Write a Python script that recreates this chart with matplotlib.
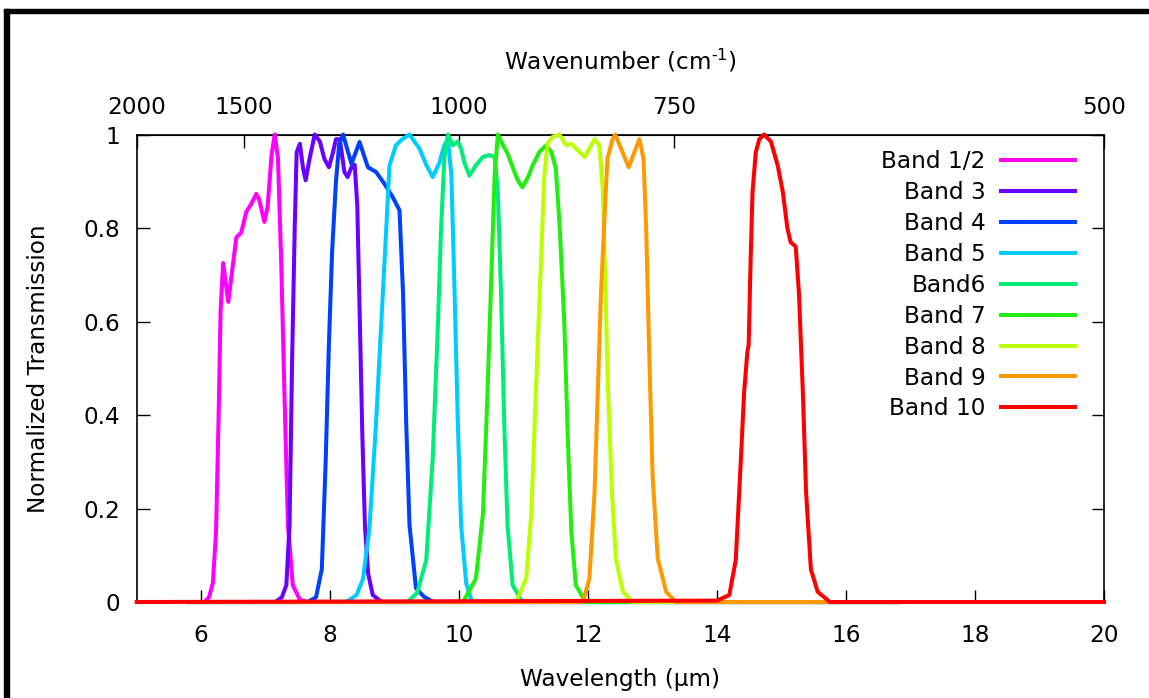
import matplotlib
matplotlib.use("Agg")
import matplotlib.pyplot as plt
from matplotlib.patches import Rectangle

# band transmission curves (wavelength in um, normalized transmission)
wl_b12 = [5.8, 6.05, 6.12, 6.18, 6.23, 6.27, 6.30, 6.34, 6.42, 6.49, 6.545, 6.62, 6.70, 6.77, 6.855,
          6.90, 6.98, 7.03, 7.09, 7.14, 7.19, 7.24, 7.29, 7.345, 7.42, 7.53, 7.65, 16.8]
tr_b12 = [0, 0, 0.01, 0.04, 0.15, 0.40, 0.62, 0.725, 0.642, 0.72, 0.78, 0.79, 0.835, 0.85, 0.873,
          0.86, 0.813, 0.845, 0.955, 1.0, 0.95, 0.73, 0.45, 0.165, 0.036, 0.005, 0, 0]

wl_b3 = [5.8, 7.15, 7.25, 7.32, 7.37, 7.41, 7.45, 7.48, 7.53, 7.58, 7.62, 7.68, 7.76, 7.84, 7.91,
         7.98, 8.04, 8.09, 8.15, 8.22, 8.27, 8.33, 8.38, 8.42, 8.46, 8.50, 8.54, 8.59, 8.66, 8.8, 16.8]
tr_b3 = [0, 0, 0.01, 0.036, 0.165, 0.52, 0.80, 0.962, 0.98, 0.927, 0.902, 0.948, 1.0, 0.985, 0.948,
         0.93, 0.96, 0.99, 0.99, 0.92, 0.909, 0.93, 0.935, 0.85, 0.6, 0.35, 0.16, 0.06, 0.015, 0, 0]

wl_b4 = [5.8, 7.65, 7.78, 7.87, 7.93, 7.98, 8.03, 8.09, 8.14, 8.20, 8.33, 8.455, 8.585, 8.71, 8.84,
         8.97, 9.075, 9.13, 9.18, 9.23, 9.33, 9.45, 9.6, 16.8]
tr_b4 = [0, 0, 0.01, 0.07, 0.3, 0.55, 0.75, 0.9, 0.98, 1.0, 0.937, 0.984, 0.93, 0.92, 0.895,
         0.866, 0.838, 0.66, 0.378, 0.165, 0.03, 0.012, 0, 0]

wl_b5 = [5.8, 8.25, 8.41, 8.51, 8.61, 8.71, 8.79, 8.87, 8.92, 9.02, 9.12, 9.23, 9.385, 9.49, 9.59,
         9.695, 9.77, 9.825, 9.88, 9.93, 9.98, 10.03, 10.11, 10.2, 16.8]
tr_b5 = [0, 0, 0.015, 0.05, 0.16, 0.38, 0.59, 0.80, 0.934, 0.977, 0.99, 1.0, 0.97, 0.935, 0.909,
         0.94, 0.977, 0.99, 0.912, 0.66, 0.38, 0.165, 0.04, 0, 0]

wl_b6 = [5.8, 9.2, 9.35, 9.49, 9.59, 9.67, 9.72, 9.77, 9.825, 9.90, 9.98, 10.03, 10.08, 10.16, 10.26,
         10.37, 10.47, 10.55, 10.60, 10.65, 10.70, 10.75, 10.83, 10.98, 16.8]
tr_b6 = [0, 0, 0.02, 0.09, 0.307, 0.59, 0.80, 0.948, 1.0, 0.977, 0.985, 0.97, 0.94, 0.912, 0.934,
         0.952, 0.956, 0.952, 0.877, 0.66, 0.38, 0.165, 0.036, 0, 0]

wl_b7 = [5.8, 10.06, 10.26, 10.37, 10.44, 10.50, 10.55, 10.60, 10.68, 10.75, 10.83, 10.91, 10.98,
         11.07, 11.14, 11.245, 11.35, 11.43, 11.50, 11.56, 11.63, 11.69, 11.74, 11.81, 11.96, 16.8]
tr_b7 = [0, 0, 0.05, 0.19, 0.45, 0.70, 0.91, 1.0, 0.977, 0.96, 0.93, 0.902, 0.887,
         0.909, 0.934, 0.963, 0.977, 0.963, 0.927, 0.80, 0.6, 0.33, 0.15, 0.036, 0, 0]

wl_b8 = [5.8, 10.88, 11.04, 11.12, 11.19, 11.27, 11.32, 11.37, 11.45, 11.555, 11.66, 11.74, 11.81,
         11.95, 12.10, 12.175, 12.23, 12.27, 12.31, 12.37, 12.43, 12.54, 12.69, 16.8]
tr_b8 = [0, 0, 0.05, 0.19, 0.45, 0.73, 0.91, 0.98, 0.995, 1.0, 0.977, 0.98, 0.97,
         0.952, 0.99, 0.977, 0.877, 0.66, 0.45, 0.235, 0.093, 0.022, 0, 0]

wl_b9 = [5.8, 11.92, 12.02, 12.10, 12.15, 12.20, 12.26, 12.30, 12.38, 12.42, 12.51, 12.63, 12.72,
         12.795, 12.86, 12.90, 12.95, 13.00, 13.08, 13.21, 13.36, 16.8]
tr_b9 = [0, 0, 0.05, 0.235, 0.45, 0.66, 0.84, 0.948, 0.99, 1.0, 0.97, 0.93, 0.963,
         0.99, 0.948, 0.80, 0.52, 0.27, 0.093, 0.022, 0, 0]

wl_b10 = [5.0, 14.0, 14.19, 14.29, 14.37, 14.42, 14.47, 14.49, 14.52, 14.55, 14.60, 14.655, 14.73,
          14.835, 14.94, 15.02, 15.09, 15.14, 15.22, 15.27, 15.33, 15.38, 15.455, 15.56, 15.75, 20.0]
tr_b10 = [0, 0.003, 0.015, 0.09, 0.307, 0.45, 0.535, 0.55, 0.73, 0.877, 0.962, 0.99, 1.0,
          0.985, 0.934, 0.877, 0.80, 0.77, 0.76, 0.66, 0.45, 0.235, 0.07, 0.022, 0, 0]

band_names = ["Band 1/2", "Band 3", "Band 4", "Band 5", "Band6", "Band 7", "Band 8", "Band 9", "Band 10"]
band_colors = ["#ff00ff", "#6a00ff", "#0040ff", "#00ccff", "#00ee77", "#22ee11", "#bbff00", "#ff9900", "#ff0000"]
band_wl = [wl_b12, wl_b3, wl_b4, wl_b5, wl_b6, wl_b7, wl_b8, wl_b9, wl_b10]
band_tr = [tr_b12, tr_b3, tr_b4, tr_b5, tr_b6, tr_b7, tr_b8, tr_b9, tr_b10]

x_ticks = [6, 8, 10, 12, 14, 16, 18, 20]
y_ticks = [0, 0.2, 0.4, 0.6, 0.8, 1.0]
y_ticklabels = ["0", "0.2", "0.4", "0.6", "0.8", "1"]
wn_ticks = [2000, 1500, 1000, 750, 500]

plt.rcParams["font.family"] = "DejaVu Sans"
plt.rcParams["font.size"] = 16.7

fig = plt.figure(figsize=(11.49, 6.98), dpi=100)
ax = fig.add_axes([0.119, 0.1375, 0.8418, 0.6698])

for wl, tr, name, col in zip(band_wl, band_tr, band_names, band_colors):
    ax.plot(wl, tr, color=col, lw=2.9, label=name, clip_on=False,
            solid_joinstyle="round", zorder=3)

ax.set_xlim(5, 20)
ax.set_ylim(0, 1)
ax.set_xticks(x_ticks)
ax.set_yticks(y_ticks)
ax.set_yticklabels(y_ticklabels)
ax.tick_params(axis="x", direction="in", length=9, width=1, pad=16, top=False)
ax.tick_params(axis="y", direction="in", length=9, width=1, pad=12, right=True)
for sp in ax.spines.values():
    sp.set_linewidth(1.2)

ax.set_xlabel("Wavelength (µm)", labelpad=15)
ax.set_ylabel("Normalized Transmission", labelpad=24)

top = ax.secondary_xaxis("top", functions=(lambda x: 1e4 / x, lambda x: 1e4 / x))
top.set_xticks(wn_ticks)
top.set_xticklabels([str(v) for v in wn_ticks])
top.tick_params(direction="in", length=9, width=1, pad=11)
top.set_xlabel("Wavenumber (cm$^{\\text{-}1}$)", labelpad=19)

leg = ax.legend(loc="upper right", bbox_to_anchor=(0.970, 0.966), markerfirst=False,
                frameon=False, borderpad=0, borderaxespad=0, handlelength=3.2,
                handletextpad=0.65, labelspacing=0.34)

# black frame on top and left edges of the picture
fig.patches.append(Rectangle((4 / 1149, 1 - 13 / 698), 1, 4 / 698, transform=fig.transFigure,
                             color="black", zorder=10))
fig.patches.append(Rectangle((4 / 1149, 0), 5 / 1149, 1 - 9 / 698, transform=fig.transFigure,
                             color="black", zorder=10))

plt.savefig("out.png", dpi=100)
